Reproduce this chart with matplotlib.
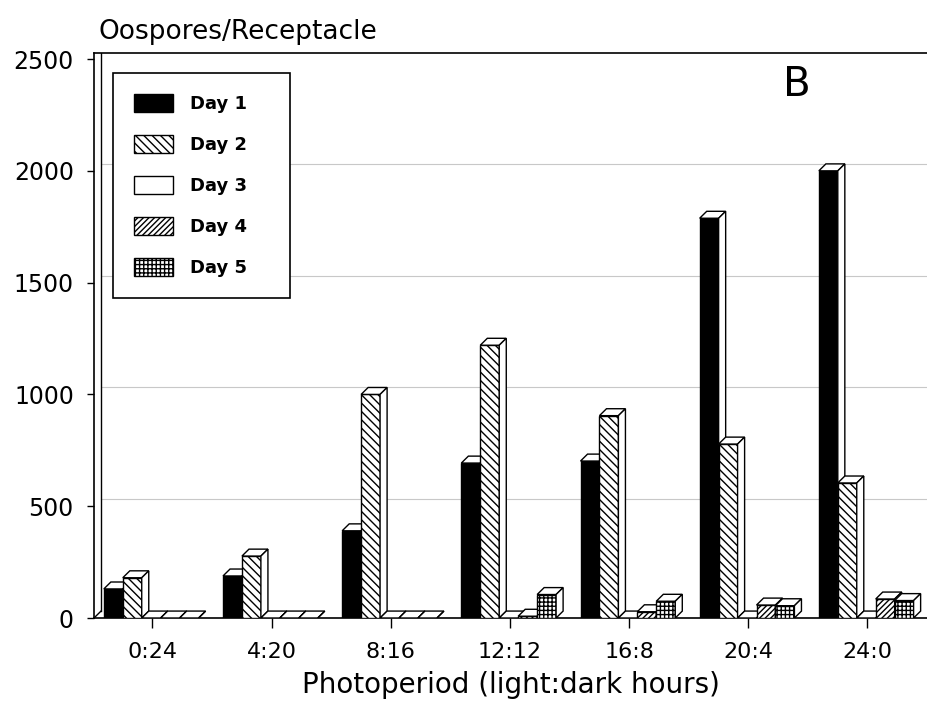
import numpy as np
import matplotlib
matplotlib.use("Agg")
import matplotlib.pyplot as plt
from matplotlib.patches import Polygon, Patch

plt.rcParams['font.family'] = ['DejaVu Sans']
plt.rcParams['hatch.linewidth'] = 1.0

# photoperiod groups and oospore counts per day
periods = ['0:24', '4:20', '8:16', '12:12', '16:8', '20:4', '24:0']
day1 = [130, 188, 390, 693, 702, 1788, 2000]
day2 = [180, 277, 1000, 1220, 905, 778, 604]
day3 = [0, 0, 0, 0, 0, 0, 0]
day4 = [0, 0, 0, 8, 28, 58, 85]
day5 = [0, 0, 0, 105, 75, 55, 78]
days = ['Day 1', 'Day 2', 'Day 3', 'Day 4', 'Day 5']
series = [day1, day2, day3, day4, day5]

# look of each day: face colour, hatch
faces = ['black', 'white', 'white', 'white', 'white']
hatches = [None, '\\\\\\\\', None, '//////', '++++']

w = 0.159     # bar width
dx = 0.059    # fake 3d depth, x data units
dy = 31       # fake 3d depth, y data units
x_lo, x_hi = -0.49, 6.5
y_top = 2527

fig = plt.figure(figsize=(9.27, 7.05), dpi=100)
ax = fig.add_axes([94/927, 1 - 618/705, 833/927, 565/705])

x = np.arange(len(periods))
z = 2
for g in range(len(periods)):
    for i in range(5):
        x0 = x[g] + (i - 2) * w - w / 2 - 0.01
        x1 = x0 + w
        h = series[i][g]
        ax.bar(x0, h, width=w, align='edge', color=faces[i], hatch=hatches[i],
               edgecolor='black', linewidth=1.0, zorder=z)
        top = Polygon([(x0, h), (x0 + dx, h + dy), (x1 + dx, h + dy), (x1, h)],
                      closed=True, facecolor='white', edgecolor='black', lw=1.0, zorder=z)
        side = Polygon([(x1, 0), (x1 + dx, dy), (x1 + dx, h + dy), (x1, h)],
                       closed=True, facecolor='white', edgecolor='black', lw=1.0, zorder=z)
        ax.add_patch(top)
        ax.add_patch(side)
        z += 1

# back wall gridlines and wall edge
grid_vals = np.array([500, 1000, 1500, 2000])
ax.hlines(grid_vals + dy, x_lo + dx, x_hi, color='#c8c8c8', lw=0.8, zorder=0)
ax.plot([x_lo + dx, x_lo + dx], [dy, y_top], color='black', lw=1.0, zorder=1)
ax.plot([x_lo, x_lo + dx], [0, dy], color='black', lw=1.0, zorder=1)

ax.set_xlim(x_lo, x_hi)
ax.set_ylim(0, y_top)
ax.set_yticks([0, 500, 1000, 1500, 2000, 2500])
ax.set_xticks(x)
ax.set_xticklabels(periods)
ax.tick_params(axis='y', direction='out', length=5, width=1.0, labelsize=17, pad=9.5)
ax.tick_params(axis='x', direction='out', length=7, width=1.0, labelsize=16, pad=10)
for s in ['left', 'bottom', 'top']:
    ax.spines[s].set_linewidth(1.2)
ax.spines['right'].set_visible(False)

ax.set_xlabel('Photoperiod (light:dark hours)', fontsize=20, labelpad=7)
fig.text(98/927, 1 - 32/705, 'Oospores/Receptacle', fontsize=19, ha='left', va='center')
ax.text(797/927, 1 - 85/705, 'B', transform=fig.transFigure, fontsize=29,
        ha='center', va='center')

handles = [Patch(facecolor=faces[i], hatch=hatches[i], edgecolor='black', lw=1.0)
           for i in range(5)]
leg = ax.legend(handles, days, loc='upper left', mode='expand',
                bbox_to_anchor=(0.0228, 0.566, 0.2125, 0.3986), borderaxespad=0,
                prop={'weight': 'bold', 'size': 13}, handlelength=2.2, handleheight=1.2,
                labelspacing=1.2, handletextpad=0.9, borderpad=1.15,
                fancybox=False, framealpha=1, edgecolor='black')
leg.get_frame().set_linewidth(1.2)
leg.set_zorder(100)

fig.savefig('out.png', dpi=100)
